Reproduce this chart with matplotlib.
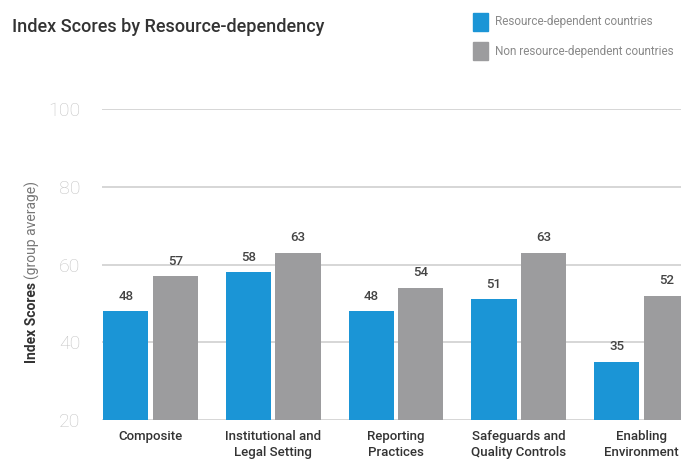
import matplotlib
matplotlib.use("Agg")
import matplotlib.pyplot as plt
import numpy as np

categories = ["Composite", "Institutional and\nLegal Setting", "Reporting\nPractices",
              "Safeguards and\nQuality Controls", "Enabling\nEnvironment"]
resource_dep = [48, 58, 48, 51, 35]
non_resource_dep = [57, 63, 54, 63, 52]
series_names = ["Resource-dependent countries", "Non resource-dependent countries"]
yticks = [20, 40, 60, 80, 100]

BLUE = "#1b95d6"
GRAY = "#9c9c9e"

plt.rcParams['font.family'] = ['Roboto', 'DejaVu Sans']

W, H = 681, 466
fig = plt.figure(figsize=(W / 100, H / 100), dpi=100)
ax_left, ax_right = 102, 681
ax_top, ax_bottom = 109, 420
ax = fig.add_axes([ax_left / W, 1 - ax_bottom / H, (ax_right - ax_left) / W, (ax_bottom - ax_top) / H])

x = np.arange(len(categories))
bw = 0.37
gap = 0.033
ax.bar(x - (bw + gap) / 2, [v - 20 for v in resource_dep], bw, bottom=20, color=BLUE, zorder=3)
ax.bar(x + (bw + gap) / 2, [v - 20 for v in non_resource_dep], bw, bottom=20, color=GRAY, zorder=3)

for xi, v in zip(x, resource_dep):
    ax.text(xi - (bw + gap) / 2, v + 2.2, str(v), ha='center', va='bottom', fontsize=9.5,
            color='#444444', fontweight='medium', zorder=4)
for xi, v in zip(x, non_resource_dep):
    ax.text(xi + (bw + gap) / 2, v + 2.2, str(v), ha='center', va='bottom', fontsize=9.5,
            color='#444444', fontweight='medium', zorder=4)

span = (ax_right - ax_left) / 122.75
ax.set_xlim(-0.395, -0.395 + span)
ax.set_ylim(20, 100)
ax.set_yticks(yticks)
ax.set_yticklabels([str(t) for t in yticks], fontsize=14, color='#c4c4c4', fontweight='light')
ax.tick_params(axis='y', length=0, pad=15.5)
ax.set_xticks(x)
ax.set_xticklabels(categories, fontsize=9.5, color='#333333', fontweight='medium', linespacing=1.3)
ax.tick_params(axis='x', length=0, pad=7)
for s in ax.spines.values():
    s.set_visible(False)
ax.grid(axis='y', color='#d6d6d6', linewidth=1.4, zorder=0)
ax.set_axisbelow(True)

# title
fig.text(12 / W, 1 - 27 / H, "Index Scores by Resource-dependency", fontsize=13,
         fontweight='medium', color='#333333', ha='left', va='center')

# legend
from matplotlib.patches import Rectangle
for i, (name, col) in enumerate(zip(series_names, [BLUE, GRAY])):
    yc = 22 + i * 29
    fig.patches.append(Rectangle((473 / W, 1 - (yc + 9) / H), 15 / W, 18 / H,
                                 transform=fig.transFigure, color=col, figure=fig))
    fig.text(495 / W, 1 - yc / H, name, fontsize=8.5, color='#8a8a8a', ha='left', va='center')

# y label with bold part
fig.canvas.draw()
renderer = fig.canvas.get_renderer()
t1 = fig.text(32 / W, 1 - 363 / H, "Index Scores", rotation=90, fontsize=10,
              fontweight='bold', color='#333333', ha='center', va='bottom')
bb = t1.get_window_extent(renderer)
fig.text(32 / W, (bb.y1 + 3) / H, "(group average)", rotation=90, fontsize=10,
         color='#777777', ha='center', va='bottom')

fig.savefig("out.png", dpi=100)
